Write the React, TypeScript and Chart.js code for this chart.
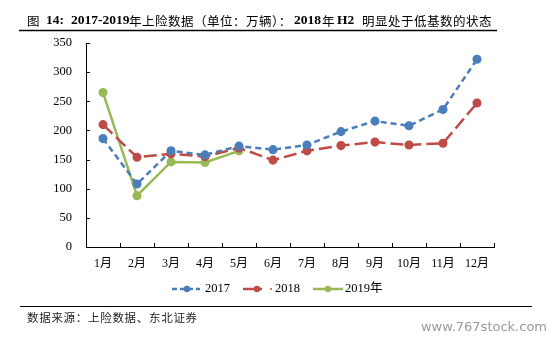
import React, { useEffect, useRef } from "react";
import { Chart, registerables } from "chart.js";

Chart.register(...registerables);

const months = ["1月", "2月", "3月", "4月", "5月", "6月", "7月", "8月", "9月", "10月", "11月", "12月"];
const s2017 = [186, 108, 165, 158, 173, 167, 175, 198, 216, 208, 236, 322];
const s2018 = [210, 154, 160, 155, 170, 149, 165, 174, 180, 175, 178, 247];
const s2019 = [265, 88, 146, 145, 165, null, null, null, null, null, null, null];
const seriesNames = ["2017", "2018", "2019年"];
const yMin = 0;
const yMax = 350;
const yStep = 50;

const titleParts: { t: string; bold: boolean; x: number }[] = [
  { t: "图", bold: false, x: 27 },
  { t: "14:", bold: true, x: 46 },
  { t: "2017-2019", bold: true, x: 71 },
  { t: "年上险数据（单位：万辆）：", bold: false, x: 129 },
  { t: "2018", bold: true, x: 294 },
  { t: "年", bold: false, x: 322 },
  { t: "H2", bold: true, x: 337 },
  { t: "明显处于低基数的状态", bold: false, x: 362 },
];
const sourceText = "数据来源：上险数据、东北证券";
const watermark = "www.767stock.com";

const BLUE = "#4a7ebb";
const RED = "#be4b48";
const GREEN = "#98b954";
const SERIF = "'Liberation Serif', 'Noto Sans CJK SC', serif";
const CJK = "'Noto Sans CJK SC', sans-serif";

const decorPlugin = {
  id: "decor",
  afterDraw(chart: any) {
    const ctx = chart.ctx as any;
    const area = chart.chartArea;
    const ys = chart.scales.y;
    ctx.save();
    // inner ticks
    ctx.strokeStyle = "#000";
    ctx.lineWidth = 1;
    ctx.beginPath();
    ys.ticks.forEach((_t: any, i: number) => {
      const y = Math.round(ys.getPixelForTick(i)) + 0.5;
      ctx.moveTo(area.left, y);
      ctx.lineTo(area.left + 4, y);
    });
    const n = months.length;
    for (let i = 0; i <= n; i++) {
      const x = Math.round(area.left + (i * (area.right - area.left)) / n) + 0.5;
      ctx.moveTo(x, area.bottom);
      ctx.lineTo(x, area.bottom - 4);
    }
    ctx.stroke();

    // title
    ctx.fillStyle = "#000";
    ctx.textBaseline = "middle";
    ctx.textAlign = "left";
    titleParts.forEach((p) => {
      ctx.font = p.bold ? `bold 13.5px ${SERIF}` : `12.5px ${CJK}`;
      ctx.letterSpacing = p.bold ? "0px" : "0.5px";
      ctx.fillText(p.t, p.x, 21);
    });
    ctx.letterSpacing = "0px";
    // title rule
    ctx.beginPath();
    ctx.lineWidth = 1.3;
    ctx.moveTo(19, 30.5);
    ctx.lineTo(497, 30.5);
    ctx.stroke();
    // source rule
    ctx.beginPath();
    ctx.lineWidth = 1;
    ctx.moveTo(20, 306.5);
    ctx.lineTo(532, 306.5);
    ctx.stroke();
    ctx.font = `11.5px ${CJK}`;
    ctx.letterSpacing = "0.7px";
    ctx.fillStyle = "#222";
    ctx.fillText(sourceText, 27, 318);
    ctx.letterSpacing = "0px";
    // watermark
    ctx.font = `13px 'DejaVu Sans', sans-serif`;
    ctx.fillStyle = "#9a9a9a";
    ctx.textAlign = "right";
    ctx.fillText(watermark, 547, 328);

    // legend
    const legend = [
      { color: BLUE, dash: [5, 3], x0: 172, x1: 200, dot: 187, tx: 205, label: seriesNames[0] },
      { color: RED, dash: [12, 4], x0: 243, x1: 262, dot: 257, tx: 275, label: seriesNames[1] },
      { color: GREEN, dash: [], x0: 313, x1: 343, dot: 328, tx: 345, label: seriesNames[2] },
    ];
    const ly = 289;
    legend.forEach((l, i) => {
      ctx.strokeStyle = l.color;
      ctx.lineWidth = 2.5;
      ctx.setLineDash(l.dash);
      ctx.beginPath();
      ctx.moveTo(l.x0, ly);
      ctx.lineTo(l.x1, ly);
      ctx.stroke();
      ctx.setLineDash([]);
      ctx.fillStyle = l.color;
      ctx.beginPath();
      ctx.arc(l.dot, ly, 3.2, 0, Math.PI * 2);
      ctx.fill();
      if (i === 1) {
        ctx.beginPath();
        ctx.arc(271, ly, 1, 0, Math.PI * 2);
        ctx.fill();
      }
      ctx.fillStyle = "#000";
      ctx.textAlign = "left";
      ctx.font = `12.5px ${SERIF}`;
      ctx.fillText(l.label, l.tx, ly);
    });
    ctx.restore();
  },
};

export default function App() {
  const ref = useRef<HTMLCanvasElement>(null);
  useEffect(() => {
    document.body.style.margin = "0";
    const canvas = ref.current!;
    const mk = (label: string, data: (number | null)[], color: string, dash: number[]) => ({
      label,
      data,
      borderColor: color,
      backgroundColor: color,
      pointBackgroundColor: color,
      pointBorderColor: color,
      borderDash: dash,
      borderWidth: 2.5,
      pointRadius: 3.3,
      pointHoverRadius: 3.3,
      tension: 0,
      spanGaps: false,
    });
    const chart = new Chart(canvas, {
      type: "line",
      data: {
        labels: months,
        datasets: [
          mk(seriesNames[0], s2017, BLUE, [6, 4]),
          mk(seriesNames[1], s2018, RED, [13, 5]),
          mk(seriesNames[2], s2019, GREEN, []),
        ],
      },
      options: {
        responsive: false,
        animation: false,
        devicePixelRatio: 1,
        layout: { padding: { left: 0, right: 65, top: 43, bottom: 0 } },
        plugins: {
          legend: { display: false },
          title: { display: false },
          tooltip: { enabled: false },
        },
        scales: {
          x: {
            offset: true,
            grid: { display: false, drawTicks: false },
            border: { display: true, color: "#000", width: 1 },
            ticks: {
              color: "#000",
              padding: 10,
              maxRotation: 0,
              autoSkip: false,
              font: { family: SERIF, size: 12 },
            },
            afterFit: (s: any) => {
              s.height = 93;
            },
          },
          y: {
            min: yMin,
            max: yMax,
            grid: { display: false, drawTicks: false },
            border: { display: true, color: "#000", width: 1 },
            ticks: {
              stepSize: yStep,
              color: "#000",
              padding: 14,
              font: { family: SERIF, size: 12.5 },
            },
            afterFit: (s: any) => {
              s.width = 86;
            },
          },
        },
      },
      plugins: [decorPlugin],
    });
    return () => chart.destroy();
  }, []);
  return (
    <div style={{ width: 559, height: 340, background: "#fff" }}>
      <canvas ref={ref} width={559} height={340} style={{ display: "block" }} />
    </div>
  );
}
